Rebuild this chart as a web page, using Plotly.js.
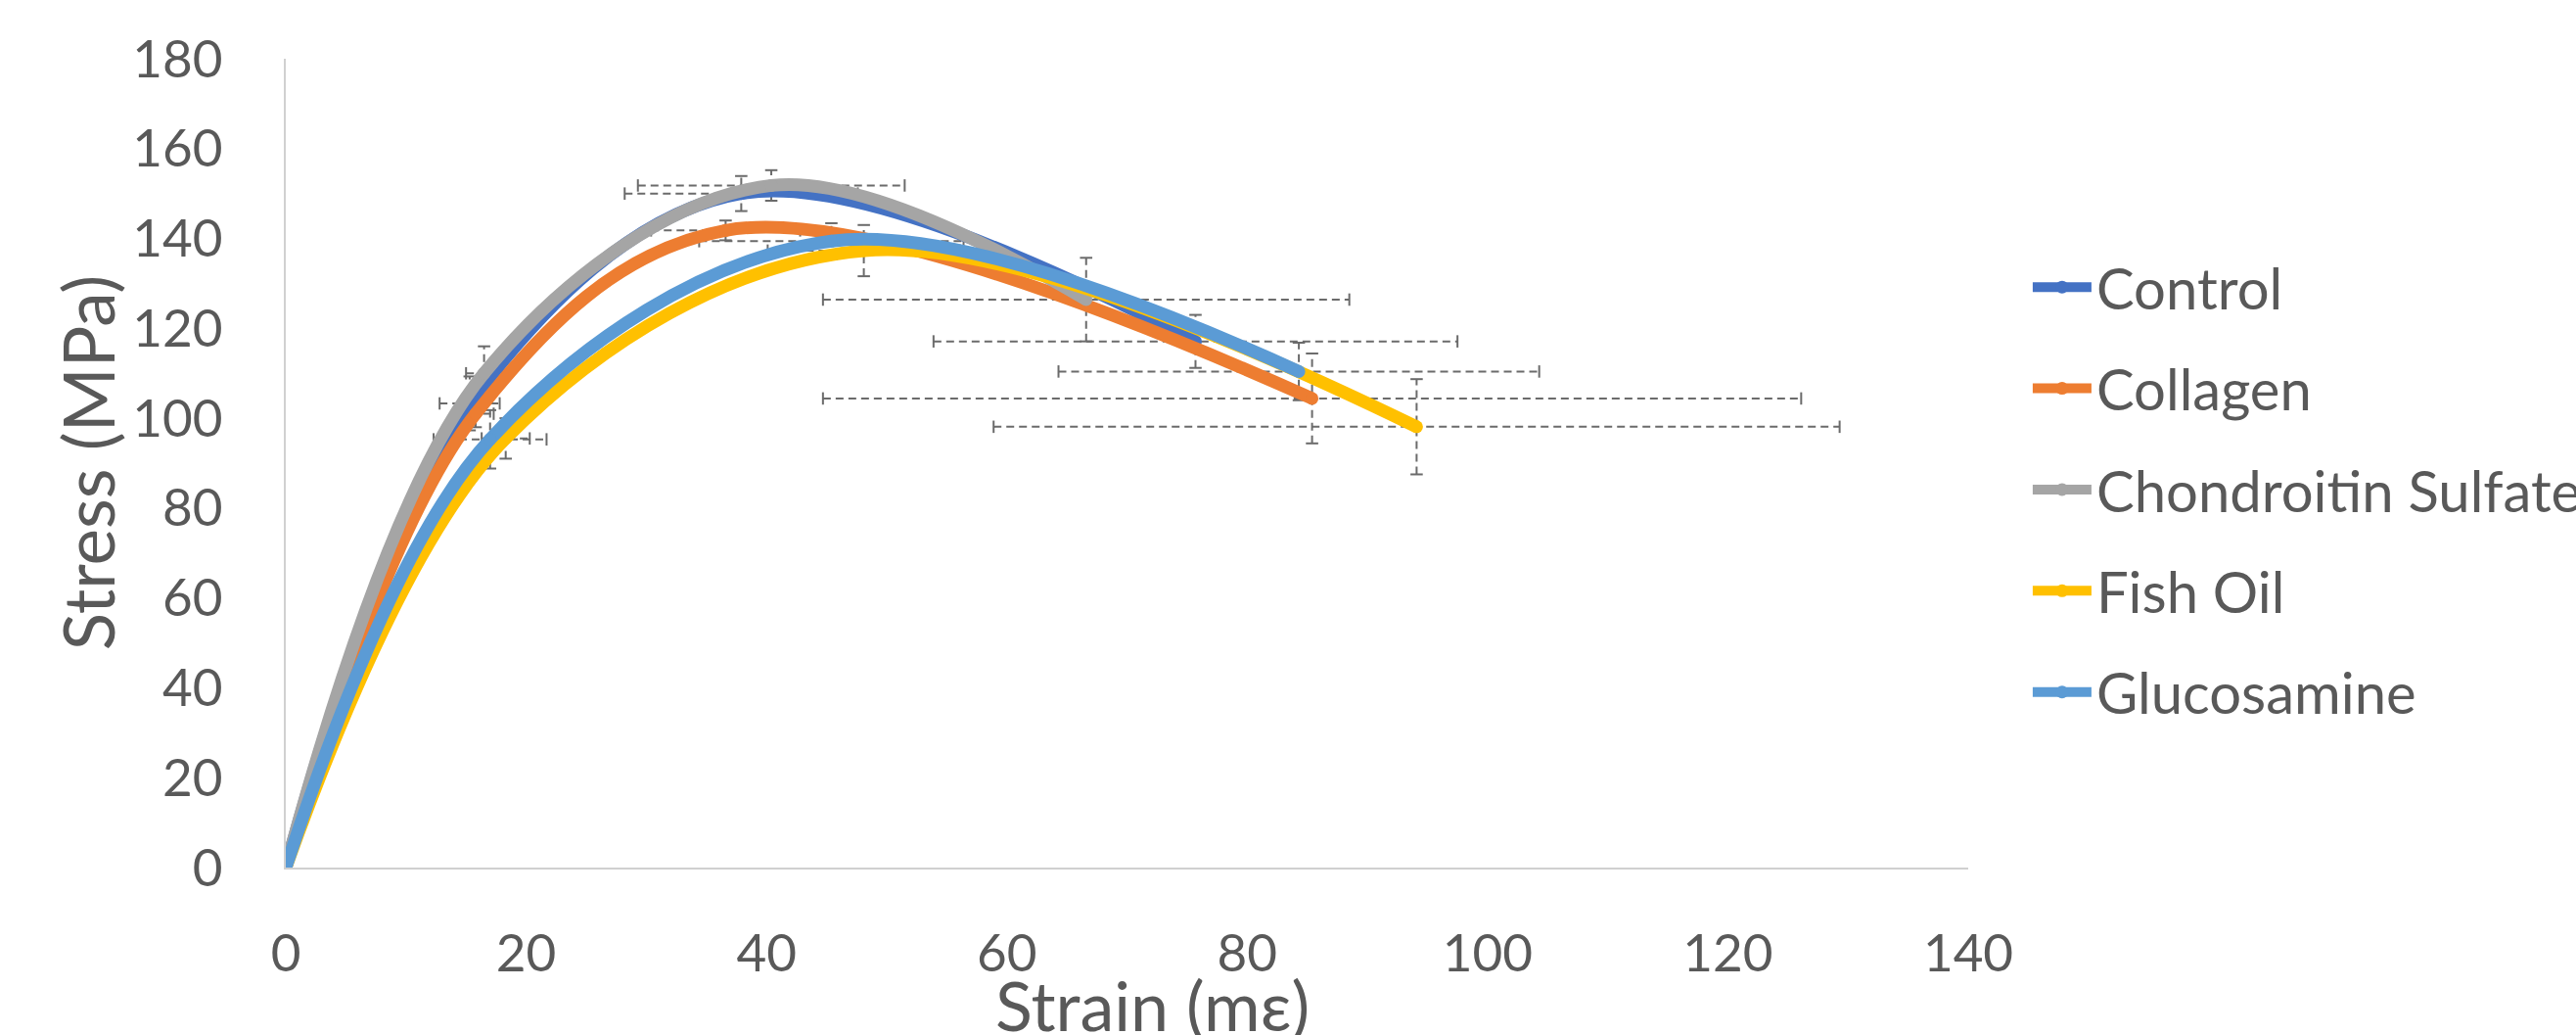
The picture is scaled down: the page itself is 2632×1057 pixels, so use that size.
<!DOCTYPE html>
<html>
<head>
<meta charset="utf-8">
<script src="https://cdn.plot.ly/plotly-3.0.1.min.js"></script>
<style>
  html, body { margin: 0; padding: 0; background: #ffffff; }
  #chart { width: 2632px; height: 1057px; }
</style>
</head>
<body>
<div id="chart"></div>
<script>
// ---- Data (strain in mε, stress in MPa) ----
const seriesNames = ["Control", "Collagen", "Chondroitin Sulfate", "Fish Oil", "Glucosamine"];

const strainControl = [0, 15.3, 37.9, 75.7];
const stressControl = [0, 103.3, 150.0, 117.1];
const strainErrControl = [0, 2.5, 9.7, 21.8];
const stressErrControl = [0, 6.0, 3.9, 5.9];

const strainCollagen = [0, 15.8, 36.6, 85.4];
const stressCollagen = [0, 101.0, 141.8, 104.4];
const strainErrCollagen = [0, 1.5, 6.2, 40.7];
const stressErrCollagen = [0, 3.0, 2.2, 10.0];

const strainChondroitin = [0, 16.5, 40.4, 66.6];
const stressChondroitin = [0, 110.0, 151.8, 126.4];
const strainErrChondroitin = [0, 1.5, 11.1, 21.9];
const stressErrChondroitin = [0, 6.0, 3.4, 9.3];

const strainFishOil = [0, 18.3, 48.1, 94.1];
const stressFishOil = [0, 95.5, 137.3, 98.1];
const strainErrFishOil = [0, 2.0, 8.0, 35.2];
const stressErrFishOil = [0, 4.5, 5.7, 10.6];

const strainGlucosamine = [0, 17.0, 45.4, 84.3];
const stressGlucosamine = [0, 95.3, 139.4, 110.4];
const strainErrGlucosamine = [0, 4.7, 11.0, 20.0];
const stressErrGlucosamine = [0, 6.5, 4.0, 6.4];

const xTickValues = [0, 20, 40, 60, 80, 100, 120, 140];
const yTickValues = [0, 20, 40, 60, 80, 100, 120, 140, 160, 180];
const xTitle = "Strain (mε)";
const yTitle = "Stress (MPa)";

// ---- Styling ----
const seriesColors = ["#4472C4", "#ED7D31", "#A5A5A5", "#FFC000", "#5B9BD5"];
const textColor = "#595959";
const errColor = "#6b6b6b";
const fontFamily = "Lato, 'Open Sans', sans-serif";

const series = [
  {x: strainControl, y: stressControl, ex: strainErrControl, ey: stressErrControl},
  {x: strainCollagen, y: stressCollagen, ex: strainErrCollagen, ey: stressErrCollagen},
  {x: strainChondroitin, y: stressChondroitin, ex: strainErrChondroitin, ey: stressErrChondroitin},
  {x: strainFishOil, y: stressFishOil, ex: strainErrFishOil, ey: stressErrFishOil},
  {x: strainGlucosamine, y: stressGlucosamine, ex: strainErrGlucosamine, ey: stressErrGlucosamine}
];

const traces = [];

// Dashed error bars (drawn beneath the curves)
series.forEach((s, k) => {
  const lx = [], ly = [], cx = [], cy = [], cs = [];
  for (let i = 0; i < s.x.length; i++) {
    if (s.ex[i] > 0) {
      lx.push(s.x[i] - s.ex[i], s.x[i] + s.ex[i], null);
      ly.push(s.y[i], s.y[i], null);
      cx.push(s.x[i] - s.ex[i], s.x[i] + s.ex[i]);
      cy.push(s.y[i], s.y[i]);
      cs.push("line-ns", "line-ns");
    }
    if (s.ey[i] > 0) {
      lx.push(s.x[i], s.x[i], null);
      ly.push(s.y[i] - s.ey[i], s.y[i] + s.ey[i], null);
      cx.push(s.x[i], s.x[i]);
      cy.push(s.y[i] - s.ey[i], s.y[i] + s.ey[i]);
      cs.push("line-ew", "line-ew");
    }
  }
  traces.push({
    type: "scatter", mode: "lines", x: lx, y: ly, showlegend: false, hoverinfo: "skip",
    line: {color: errColor, width: 2, dash: "8px,5px"}, connectgaps: false
  });
  traces.push({
    type: "scatter", mode: "markers", x: cx, y: cy, showlegend: false, hoverinfo: "skip",
    marker: {symbol: cs, size: 9, color: errColor, line: {color: errColor, width: 2}}
  });
});

// Smoothed curves
series.forEach((s, k) => {
  traces.push({
    type: "scatter", mode: "lines+markers", name: seriesNames[k],
    x: s.x, y: s.y, legendgroup: "g" + k,
    line: {color: seriesColors[k], width: 13, shape: "spline", smoothing: 1},
    marker: {color: seriesColors[k], size: 13}
  });
});

const layout = {
  width: 2632, height: 1057,
  margin: {l: 292, r: 621, t: 60, b: 171},
  paper_bgcolor: "#ffffff", plot_bgcolor: "#ffffff",
  font: {family: fontFamily, color: textColor},
  showlegend: true,
  xaxis: {
    range: [0, 140], tickvals: xTickValues, ticktext: xTickValues.map(String),
    showgrid: false, zeroline: false, showline: true, linecolor: "#d0d0d0", linewidth: 2,
    ticks: "", ticklabelstandoff: 40,
    tickfont: {family: fontFamily, size: 53, color: textColor},
    automargin: false
  },
  yaxis: {
    range: [0, 180], tickvals: yTickValues, ticktext: yTickValues.map(String),
    showgrid: false, zeroline: false, showline: true, linecolor: "#d0d0d0", linewidth: 2,
    ticks: "", ticklabelstandoff: 52,
    tickfont: {family: fontFamily, size: 53, color: textColor},
    automargin: false
  },
  annotations: [
    {text: xTitle, xref: "paper", yref: "paper", x: 0.515, y: -0.170,
     xanchor: "center", yanchor: "middle", showarrow: false,
     font: {family: fontFamily, size: 70, color: textColor}},
    {text: yTitle, xref: "paper", yref: "paper", x: -0.118, y: 0.5, textangle: -90,
     xanchor: "center", yanchor: "middle", showarrow: false,
     font: {family: fontFamily, size: 71, color: textColor}}
  ],
  legend: {
    xref: "container", yref: "container",
    x: 0.7872, xanchor: "left", y: 0.527, yanchor: "middle",
    font: {family: fontFamily, size: 58, color: textColor},
    traceorder: "grouped", tracegroupgap: 25, itemwidth: 60,
    bgcolor: "rgba(0,0,0,0)"
  }
};

Plotly.newPlot("chart", traces, layout, {displayModeBar: false, staticPlot: true});
</script>
</body>
</html>
